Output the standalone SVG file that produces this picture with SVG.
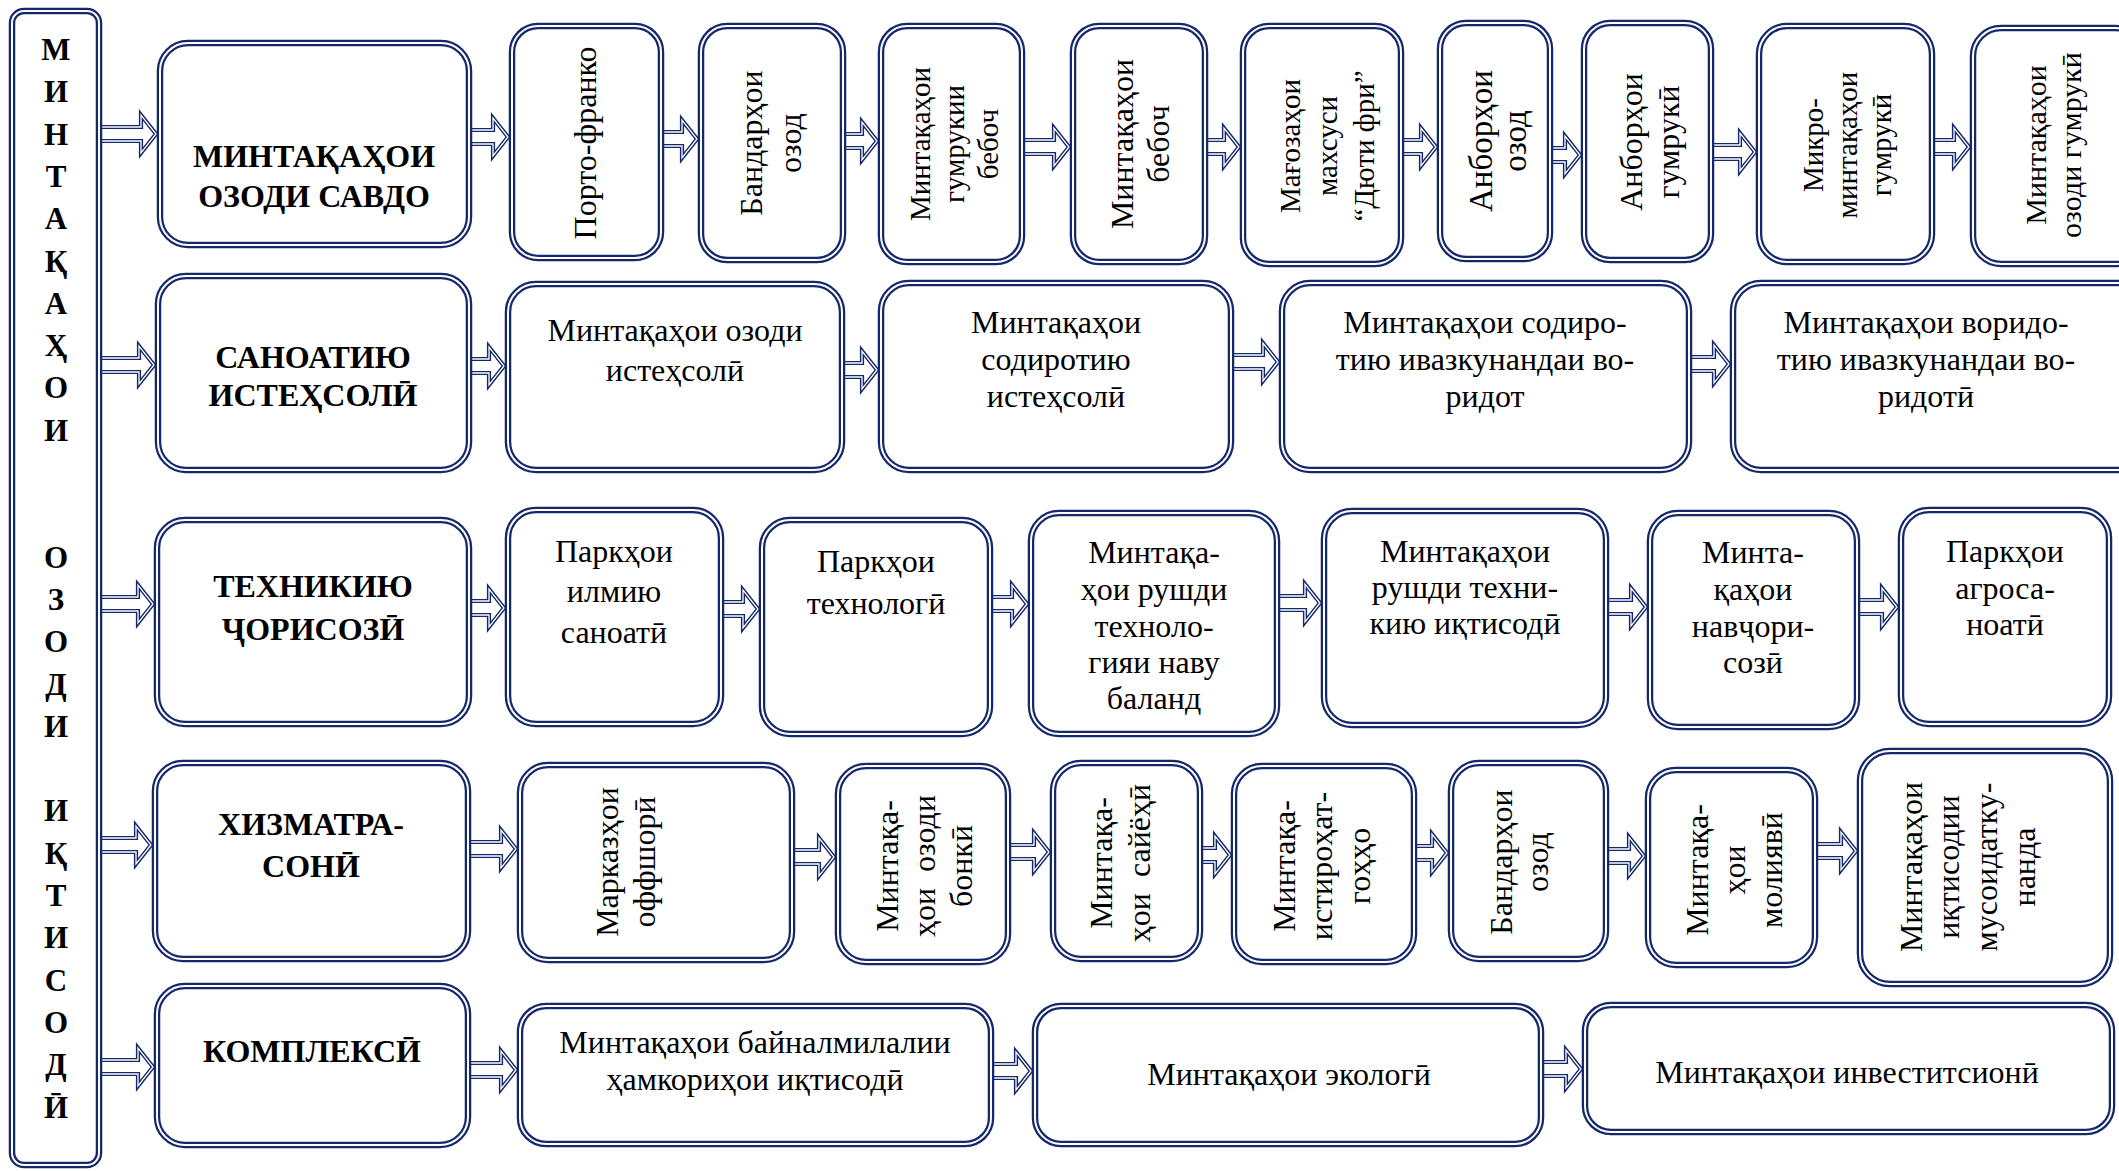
<svg xmlns="http://www.w3.org/2000/svg" width="2119" height="1171" viewBox="0 0 2119 1171">
<style>
.bo{fill:#fff;stroke:#15296a;stroke-width:6.5}
.bi{fill:none;stroke:#fff;stroke-width:2}
.ao{fill:#fff;stroke:#15296a;stroke-width:4.2;stroke-linejoin:miter}
.ai{fill:none;stroke:#fff;stroke-width:1.3;stroke-linejoin:miter}
text{font-family:"Liberation Serif","Times New Roman",serif;fill:#000}
.cat{font-weight:bold;font-size:32px;text-anchor:middle}
.t{font-size:32px;text-anchor:middle}
.v{font-size:31px;text-anchor:middle}
.v4{font-size:32px;text-anchor:middle}
.lt{font-weight:bold;font-size:31px;text-anchor:middle}
</style>
<rect width="2119" height="1171" fill="#fff"/>
<g id="connectors">
<path class="ao" d="M99,127H141V115L156,134L141,153V141H99Z"/><path class="ai" d="M99,127H141V115L156,134L141,153V141H99Z"/>
<path class="ao" d="M469,130H493V118L508,137L493,156V144H469Z"/><path class="ai" d="M469,130H493V118L508,137L493,156V144H469Z"/>
<path class="ao" d="M661,132H682V120L697,139L682,158V146H661Z"/><path class="ai" d="M661,132H682V120L697,139L682,158V146H661Z"/>
<path class="ao" d="M843,134H862V122L877,141L862,160V148H843Z"/><path class="ai" d="M843,134H862V122L877,141L862,160V148H843Z"/>
<path class="ao" d="M1022,140H1054V128L1069,147L1054,166V154H1022Z"/><path class="ai" d="M1022,140H1054V128L1069,147L1054,166V154H1022Z"/>
<path class="ao" d="M1205,140H1224V128L1239,147L1224,166V154H1205Z"/><path class="ai" d="M1205,140H1224V128L1239,147L1224,166V154H1205Z"/>
<path class="ao" d="M1401,140H1421V128L1436,147L1421,166V154H1401Z"/><path class="ai" d="M1401,140H1421V128L1436,147L1421,166V154H1401Z"/>
<path class="ao" d="M1550,148H1565V136L1580,155L1565,174V162H1550Z"/><path class="ai" d="M1550,148H1565V136L1580,155L1565,174V162H1550Z"/>
<path class="ao" d="M1711,145H1740V133L1755,152L1740,171V159H1711Z"/><path class="ai" d="M1711,145H1740V133L1755,152L1740,171V159H1711Z"/>
<path class="ao" d="M1932,140H1954V128L1969,147L1954,166V154H1932Z"/><path class="ai" d="M1932,140H1954V128L1969,147L1954,166V154H1932Z"/>

<path class="ao" d="M99,358H139V346L154,365L139,384V372H99Z"/><path class="ai" d="M99,358H139V346L154,365L139,384V372H99Z"/>
<path class="ao" d="M469,359H489V347L504,366L489,385V373H469Z"/><path class="ai" d="M469,359H489V347L504,366L489,385V373H469Z"/>
<path class="ao" d="M842,363H862V351L877,370L862,389V377H842Z"/><path class="ai" d="M842,363H862V351L877,370L862,389V377H842Z"/>
<path class="ao" d="M1231,355H1263V343L1278,362L1263,381V369H1231Z"/><path class="ai" d="M1231,355H1263V343L1278,362L1263,381V369H1231Z"/>
<path class="ao" d="M1689,357H1714V345L1729,364L1714,383V371H1689Z"/><path class="ai" d="M1689,357H1714V345L1729,364L1714,383V371H1689Z"/>

<path class="ao" d="M99,597H138V585L153,604L138,623V611H99Z"/><path class="ai" d="M99,597H138V585L153,604L138,623V611H99Z"/>
<path class="ao" d="M469,601H489V589L504,608L489,627V615H469Z"/><path class="ai" d="M469,601H489V589L504,608L489,627V615H469Z"/>
<path class="ao" d="M721,602H743V590L758,609L743,628V616H721Z"/><path class="ai" d="M721,602H743V590L758,609L743,628V616H721Z"/>
<path class="ao" d="M990,597H1012V585L1027,604L1012,623V611H990Z"/><path class="ai" d="M990,597H1012V585L1027,604L1012,623V611H990Z"/>
<path class="ao" d="M1277,596H1305V584L1320,603L1305,622V610H1277Z"/><path class="ai" d="M1277,596H1305V584L1320,603L1305,622V610H1277Z"/>
<path class="ao" d="M1606,600H1631V588L1646,607L1631,626V614H1606Z"/><path class="ai" d="M1606,600H1631V588L1646,607L1631,626V614H1606Z"/>
<path class="ao" d="M1857,600H1882V588L1897,607L1882,626V614H1857Z"/><path class="ai" d="M1857,600H1882V588L1897,607L1882,626V614H1857Z"/>

<path class="ao" d="M99,838H136V826L151,845L136,864V852H99Z"/><path class="ai" d="M99,838H136V826L151,845L136,864V852H99Z"/>
<path class="ao" d="M468,842H501V830L516,849L501,868V856H468Z"/><path class="ai" d="M468,842H501V830L516,849L501,868V856H468Z"/>
<path class="ao" d="M792,850H819V838L834,857L819,876V864H792Z"/><path class="ai" d="M792,850H819V838L834,857L819,876V864H792Z"/>
<path class="ao" d="M1008,845H1034V833L1049,852L1034,871V859H1008Z"/><path class="ai" d="M1008,845H1034V833L1049,852L1034,871V859H1008Z"/>
<path class="ao" d="M1200,848H1215V836L1230,855L1215,874V862H1200Z"/><path class="ai" d="M1200,848H1215V836L1230,855L1215,874V862H1200Z"/>
<path class="ao" d="M1414,846H1432V834L1447,853L1432,872V860H1414Z"/><path class="ai" d="M1414,846H1432V834L1447,853L1432,872V860H1414Z"/>
<path class="ao" d="M1606,849H1629V837L1644,856L1629,875V863H1606Z"/><path class="ai" d="M1606,849H1629V837L1644,856L1629,875V863H1606Z"/>
<path class="ao" d="M1815,844H1841V832L1856,851L1841,870V858H1815Z"/><path class="ai" d="M1815,844H1841V832L1856,851L1841,870V858H1815Z"/>

<path class="ao" d="M99,1060H138V1048L153,1067L138,1086V1074H99Z"/><path class="ai" d="M99,1060H138V1048L153,1067L138,1086V1074H99Z"/>
<path class="ao" d="M468,1063H501V1051L516,1070L501,1089V1077H468Z"/><path class="ai" d="M468,1063H501V1051L516,1070L501,1089V1077H468Z"/>
<path class="ao" d="M991,1064H1016V1052L1031,1071L1016,1090V1078H991Z"/><path class="ai" d="M991,1064H1016V1052L1031,1071L1016,1090V1078H991Z"/>
<path class="ao" d="M1541,1062H1566V1050L1581,1069L1566,1088V1076H1541Z"/><path class="ai" d="M1541,1062H1566V1050L1581,1069L1566,1088V1076H1541Z"/>
</g>

<g id="main">
<rect class="bo" x="12" y="11" width="87" height="1154" rx="12"/><rect class="bi" x="12" y="11" width="87" height="1154" rx="12"/>
<text class="lt"><tspan x="56" y="60">М</tspan><tspan x="56" y="102">И</tspan><tspan x="56" y="145">Н</tspan><tspan x="56" y="187">Т</tspan><tspan x="56" y="229">А</tspan><tspan x="56" y="272">Қ</tspan><tspan x="56" y="314">А</tspan><tspan x="56" y="356">Ҳ</tspan><tspan x="56" y="398">О</tspan><tspan x="56" y="441">И</tspan><tspan x="56" y="568">О</tspan><tspan x="56" y="610">З</tspan><tspan x="56" y="652">О</tspan><tspan x="56" y="695">Д</tspan><tspan x="56" y="737">И</tspan><tspan x="56" y="821">И</tspan><tspan x="56" y="864">Қ</tspan><tspan x="56" y="906">Т</tspan><tspan x="56" y="948">И</tspan><tspan x="56" y="991">С</tspan><tspan x="56" y="1033">О</tspan><tspan x="56" y="1075">Д</tspan><tspan x="56" y="1118">Ӣ</tspan></text>
</g>

<g id="c1"><rect class="bo" x="160" y="43" width="309" height="202" rx="28"/><rect class="bi" x="160" y="43" width="309" height="202" rx="28"/>
<text class="cat"><tspan x="314" y="167">МИНТАҚАҲОИ</tspan><tspan x="314" y="207">ОЗОДИ САВДО</tspan></text></g>
<g id="c2"><rect class="bo" x="158" y="276" width="311" height="194" rx="28"/><rect class="bi" x="158" y="276" width="311" height="194" rx="28"/>
<text class="cat"><tspan x="313" y="368">САНОАТИЮ</tspan><tspan x="313" y="406">ИСТЕҲСОЛӢ</tspan></text></g>
<g id="c3"><rect class="bo" x="157" y="520" width="312" height="204" rx="28"/><rect class="bi" x="157" y="520" width="312" height="204" rx="28"/>
<text class="cat"><tspan x="313" y="597">ТЕХНИКИЮ</tspan><tspan x="313" y="640">ҶОРИСОЗӢ</tspan></text></g>
<g id="c4"><rect class="bo" x="155" y="763" width="313" height="196" rx="28"/><rect class="bi" x="155" y="763" width="313" height="196" rx="28"/>
<text class="cat"><tspan x="311" y="835">ХИЗМАТРА-</tspan><tspan x="311" y="877">СОНӢ</tspan></text></g>
<g id="c5"><rect class="bo" x="157" y="986" width="311" height="159" rx="28"/><rect class="bi" x="157" y="986" width="311" height="159" rx="28"/>
<text class="cat" x="312" y="1062">КОМПЛЕКСӢ</text></g>

<g id="r1-1"><rect class="bo" x="512" y="26" width="149" height="232" rx="26"/><rect class="bi" x="512" y="26" width="149" height="232" rx="26"/>
<g transform="translate(596,143) rotate(-90)"><text class="v" style="font-size:32px" x="0" y="0">Порто-франко</text></g></g>
<g id="r1-2"><rect class="bo" x="701" y="26" width="142" height="234" rx="26"/><rect class="bi" x="701" y="26" width="142" height="234" rx="26"/>
<g transform="translate(762,143) rotate(-90)"><text class="v" style="font-size:32px"><tspan x="0" y="0">Бандарҳои</tspan><tspan x="0" y="39">озод</tspan></text></g></g>
<g id="r1-3"><rect class="bo" x="881" y="26" width="141" height="236" rx="26"/><rect class="bi" x="881" y="26" width="141" height="236" rx="26"/>
<g transform="translate(930,144) rotate(-90)"><text class="v" style="font-size:29px"><tspan x="0" y="0">Минтақаҳои</tspan><tspan x="0" y="34">гумрукии</tspan><tspan x="0" y="68">бебоч</tspan></text></g></g>
<g id="r1-4"><rect class="bo" x="1073" y="26" width="132" height="236" rx="26"/><rect class="bi" x="1073" y="26" width="132" height="236" rx="26"/>
<g transform="translate(1133,144) rotate(-90)"><text class="v" style="font-size:32px"><tspan x="0" y="0">Минтақаҳои</tspan><tspan x="0" y="36">бебоч</tspan></text></g></g>
<g id="r1-5"><rect class="bo" x="1243" y="26" width="158" height="238" rx="26"/><rect class="bi" x="1243" y="26" width="158" height="238" rx="26"/>
<g transform="translate(1300,146) rotate(-90)"><text class="v" style="font-size:29px"><tspan x="0" y="0">Мағозаҳои</tspan><tspan x="0" y="37">махсуси</tspan><tspan x="0" y="74">“Дюти фри”</tspan></text></g></g>
<g id="r1-6"><rect class="bo" x="1440" y="23" width="110" height="236" rx="26"/><rect class="bi" x="1440" y="23" width="110" height="236" rx="26"/>
<g transform="translate(1492,141) rotate(-90)"><text class="v" style="font-size:33px"><tspan x="0" y="0">Анборҳои</tspan><tspan x="0" y="34">озод</tspan></text></g></g>
<g id="r1-7"><rect class="bo" x="1584" y="23" width="127" height="237" rx="26"/><rect class="bi" x="1584" y="23" width="127" height="237" rx="26"/>
<g transform="translate(1642,142) rotate(-90)"><text class="v" style="font-size:32px"><tspan x="0" y="0">Анборҳои</tspan><tspan x="0" y="37">гумрукӣ</tspan></text></g></g>
<g id="r1-8"><rect class="bo" x="1759" y="26" width="173" height="236" rx="28"/><rect class="bi" x="1759" y="26" width="173" height="236" rx="28"/>
<g transform="translate(1823,145) rotate(-90)"><text class="v" style="font-size:29px"><tspan x="0" y="0">Микро-</tspan><tspan x="0" y="34">минтақаҳои</tspan><tspan x="0" y="68">гумрукӣ</tspan></text></g></g>
<g id="r1-9"><rect class="bo" x="1973" y="28" width="170" height="236" rx="28"/><rect class="bi" x="1973" y="28" width="170" height="236" rx="28"/>
<g transform="translate(2046,145) rotate(-90)"><text class="v" style="font-size:30px"><tspan x="0" y="0">Минтақаҳои</tspan><tspan x="0" y="35">озоди гумрукӣ</tspan></text></g></g>

<g id="r2-1"><rect class="bo" x="508" y="284" width="334" height="186" rx="28"/><rect class="bi" x="508" y="284" width="334" height="186" rx="28"/>
<text class="t"><tspan x="675" y="341">Минтақаҳои озоди</tspan><tspan x="675" y="381">истеҳсолӣ</tspan></text></g>
<g id="r2-2"><rect class="bo" x="881" y="283" width="350" height="187" rx="28"/><rect class="bi" x="881" y="283" width="350" height="187" rx="28"/>
<text class="t"><tspan x="1056" y="333">Минтақаҳои</tspan><tspan x="1056" y="370">содиротию</tspan><tspan x="1056" y="407">истеҳсолӣ</tspan></text></g>
<g id="r2-3"><rect class="bo" x="1282" y="283" width="407" height="187" rx="28"/><rect class="bi" x="1282" y="283" width="407" height="187" rx="28"/>
<text class="t"><tspan x="1485" y="333">Минтақаҳои содиро-</tspan><tspan x="1485" y="370">тию ивазкунандаи во-</tspan><tspan x="1485" y="407">ридот</tspan></text></g>
<g id="r2-4"><rect class="bo" x="1733" y="283" width="420" height="187" rx="28"/><rect class="bi" x="1733" y="283" width="420" height="187" rx="28"/>
<text class="t"><tspan x="1926" y="333">Минтақаҳои воридо-</tspan><tspan x="1926" y="370">тию ивазкунандаи во-</tspan><tspan x="1926" y="407">ридотӣ</tspan></text></g>

<g id="r3-1"><rect class="bo" x="508" y="510" width="213" height="214" rx="28"/><rect class="bi" x="508" y="510" width="213" height="214" rx="28"/>
<text class="t"><tspan x="614" y="562">Паркҳои</tspan><tspan x="614" y="602">илмию</tspan><tspan x="614" y="643">саноатӣ</tspan></text></g>
<g id="r3-2"><rect class="bo" x="762" y="520" width="228" height="214" rx="28"/><rect class="bi" x="762" y="520" width="228" height="214" rx="28"/>
<text class="t"><tspan x="876" y="572">Паркҳои</tspan><tspan x="876" y="614">технологӣ</tspan></text></g>
<g id="r3-3"><rect class="bo" x="1031" y="513" width="246" height="221" rx="28"/><rect class="bi" x="1031" y="513" width="246" height="221" rx="28"/>
<text class="t"><tspan x="1154" y="563">Минтақа-</tspan><tspan x="1154" y="600">ҳои рушди</tspan><tspan x="1154" y="637">техноло-</tspan><tspan x="1154" y="673">гияи наву</tspan><tspan x="1154" y="709">баланд</tspan></text></g>
<g id="r3-4"><rect class="bo" x="1324" y="511" width="282" height="214" rx="28"/><rect class="bi" x="1324" y="511" width="282" height="214" rx="28"/>
<text class="t"><tspan x="1465" y="562">Минтақаҳои</tspan><tspan x="1465" y="598">рушди техни-</tspan><tspan x="1465" y="634">кию иқтисодӣ</tspan></text></g>
<g id="r3-5"><rect class="bo" x="1650" y="513" width="207" height="214" rx="28"/><rect class="bi" x="1650" y="513" width="207" height="214" rx="28"/>
<text class="t"><tspan x="1753" y="563">Минта-</tspan><tspan x="1753" y="600">қаҳои</tspan><tspan x="1753" y="637">навҷори-</tspan><tspan x="1753" y="673">созӣ</tspan></text></g>
<g id="r3-6"><rect class="bo" x="1901" y="510" width="208" height="214" rx="28"/><rect class="bi" x="1901" y="510" width="208" height="214" rx="28"/>
<text class="t"><tspan x="2005" y="562">Паркҳои</tspan><tspan x="2005" y="599">агроса-</tspan><tspan x="2005" y="635">ноатӣ</tspan></text></g>

<g id="r4-1"><rect class="bo" x="520" y="765" width="272" height="195" rx="28"/><rect class="bi" x="520" y="765" width="272" height="195" rx="28"/>
<g transform="translate(618,862) rotate(-90)"><text class="v4"><tspan x="0" y="0">Марказҳои</tspan><tspan x="0" y="37">оффшорӣ</tspan></text></g></g>
<g id="r4-2"><rect class="bo" x="838" y="766" width="170" height="196" rx="28"/><rect class="bi" x="838" y="766" width="170" height="196" rx="28"/>
<g transform="translate(898,866) rotate(-90)"><text class="v4"><tspan x="0" y="0">Минтақа-</tspan><tspan x="0" y="37">ҳои&#160; озоди</tspan><tspan x="0" y="74">бонкӣ</tspan></text></g></g>
<g id="r4-3"><rect class="bo" x="1053" y="763" width="147" height="196" rx="28"/><rect class="bi" x="1053" y="763" width="147" height="196" rx="28"/>
<g transform="translate(1112,863) rotate(-90)"><text class="v4"><tspan x="0" y="0">Минтақа-</tspan><tspan x="0" y="38">ҳои&#160; сайёҳӣ</tspan></text></g></g>
<g id="r4-4"><rect class="bo" x="1234" y="766" width="180" height="196" rx="28"/><rect class="bi" x="1234" y="766" width="180" height="196" rx="28"/>
<g transform="translate(1295,866) rotate(-90)"><text class="v4"><tspan x="0" y="0">Минтақа-</tspan><tspan x="0" y="37">истироҳат-</tspan><tspan x="0" y="75">гоҳҳо</tspan></text></g></g>
<g id="r4-5"><rect class="bo" x="1451" y="763" width="155" height="196" rx="28"/><rect class="bi" x="1451" y="763" width="155" height="196" rx="28"/>
<g transform="translate(1512,862) rotate(-90)"><text class="v4"><tspan x="0" y="0">Бандарҳои</tspan><tspan x="0" y="36">озод</tspan></text></g></g>
<g id="r4-6"><rect class="bo" x="1648" y="770" width="167" height="195" rx="28"/><rect class="bi" x="1648" y="770" width="167" height="195" rx="28"/>
<g transform="translate(1708,870) rotate(-90)"><text class="v4"><tspan x="0" y="0">Минтақа-</tspan><tspan x="0" y="37">ҳои</tspan><tspan x="0" y="74">молиявӣ</tspan></text></g></g>
<g id="r4-7"><rect class="bo" x="1860" y="751" width="250" height="233" rx="30"/><rect class="bi" x="1860" y="751" width="250" height="233" rx="30"/>
<g transform="translate(1922,867) rotate(-90)"><text class="v4"><tspan x="0" y="0">Минтақаҳои</tspan><tspan x="0" y="37">иқтисодии</tspan><tspan x="0" y="75">мусоидатку-</tspan><tspan x="0" y="113">нанда</tspan></text></g></g>

<g id="r5-1"><rect class="bo" x="520" y="1006" width="471" height="138" rx="26"/><rect class="bi" x="520" y="1006" width="471" height="138" rx="26"/>
<text class="t"><tspan x="755" y="1053">Минтақаҳои байналмилалии</tspan><tspan x="755" y="1090">ҳамкориҳои иқтисодӣ</tspan></text></g>
<g id="r5-2"><rect class="bo" x="1035" y="1006" width="506" height="138" rx="26"/><rect class="bi" x="1035" y="1006" width="506" height="138" rx="26"/>
<text class="t" x="1289" y="1085">Минтақаҳои экологӣ</text></g>
<g id="r5-3"><rect class="bo" x="1585" y="1005" width="527" height="127" rx="26"/><rect class="bi" x="1585" y="1005" width="527" height="127" rx="26"/>
<text class="t" x="1847" y="1083">Минтақаҳои инвеститсионӣ</text></g>
</svg>
